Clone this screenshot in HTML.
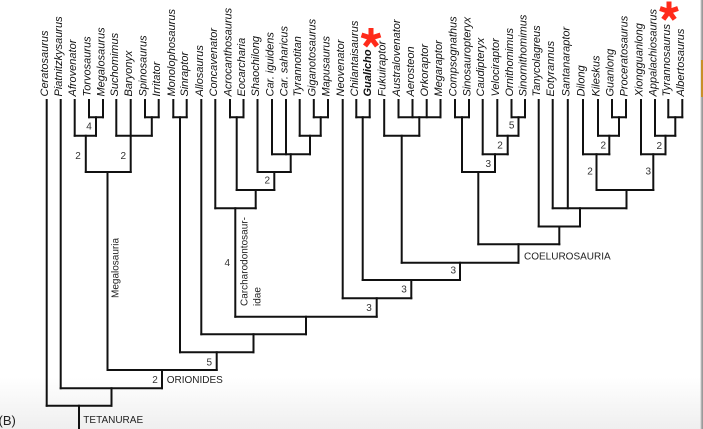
<!DOCTYPE html>
<html><head><meta charset="utf-8"><style>
html,body{margin:0;padding:0;background:#fff;}
svg{display:block;}
text{font-family:"Liberation Sans",Arial,sans-serif;}
.t{font-size:11px;font-style:italic;fill:#111;}
.n{font-size:10px;fill:#333;text-anchor:middle;}
.c{font-size:10px;fill:#222;}
</style></head><body>
<svg width="703" height="429" viewBox="0 0 703 429" xmlns="http://www.w3.org/2000/svg">
<defs><linearGradient id="bg" x1="0" y1="0" x2="0" y2="1">
<stop offset="0" stop-color="#ffffff"/><stop offset="0.88" stop-color="#ffffff"/><stop offset="1" stop-color="#efefef"/></linearGradient></defs>
<rect x="0" y="0" width="703" height="429" fill="url(#bg)"/>
<rect x="700.5" y="0" width="1" height="429" fill="#c8c8c8"/>
<rect x="701.5" y="0" width="1.5" height="429" fill="#9a9a9a"/>
<rect x="701" y="60" width="2" height="37" fill="#c8902a"/>

<g stroke="#111" stroke-width="2" fill="none" stroke-linecap="square">
<path d="
M46.7 100V405.7 M60.7 100V388.3 M74.7 100V135.7 M89 100V117.3 M103 100V117.3
M116.3 100V135.7 M130.7 100V172 M145 100V117.3 M158.7 100V117.3
M173.3 100V117.3 M186.7 100V117.3 M201.3 100V334.3 M215.3 100V208.3
M230 100V117.3 M243.5 100V117.3 M257.5 100V172 M272 100V154.2 M286 100V154.2
M299.7 100V135.7 M313.8 100V117.3 M328 100V117.3 M342.7 100V298.3
M356.3 100V117.3 M369.7 100V117.3 M384.2 100V135.7
M398.5 100V117.3 M412.5 100V117.3 M426.7 100V117.3 M440.5 100V117.3
M455 100V117.3 M469 100V117.3 M482.7 100V154.2 M497.3 100V135.7
M511.5 100V117.3 M525 100V117.3 M538.7 100V226.5 M552.7 100V208.3 M567.8 100V208.3
M583 100V154.2 M598 100V135.7 M612 100V117.3 M626 100V117.3
M641 100V154.2 M655 100V135.7 M668.3 100V117.3 M682.3 100V117.3
"/>
<path d="
M96 117.3V135.7 M85.8 135.7V172 M151.8 117.3V135.7 M107.5 172V370
M180 117.3V352.3 M236.7 117.3V190 M320.7 117.3V135.7 M310 135.7V154.2
M290.7 154.2V172 M274.3 172V190 M255.7 190V208.3 M235.3 208.3V316.7
M362.7 117.3V280 M419.3 117.3V135.7 M401.7 135.7V262.7
M462 117.3V172 M518.5 117.3V135.7 M507.7 135.7V154.2 M495 154.2V172 M478.3 172V244.3
M619 117.3V135.7 M609.3 135.7V154.2 M596.5 154.2V190
M675.3 117.3V135.7 M665.5 135.7V154.2 M653.3 154.2V190
M626.5 190V208.3 M580 208.3V226.5 M559.3 226.5V244.3 M518.5 244.3V262.7
M460 262.7V280 M411.3 280V298.3 M376.7 298.3V316.7 M306 316.7V334.3
M253.5 334.3V352.3 M216.7 352.3V370 M162 370V388.3 M111.5 388.3V405.7 M79 405.7V429
"/>
<path d="
M89 117.3H103 M74.7 135.7H96 M145 117.3H158.7 M116.3 135.7H151.8 M85.8 172H130.7
M173.3 117.3H186.7 M230 117.3H243.5 M313.8 117.3H328 M299.7 135.7H320.7
M272 154.2H310 M257.5 172H290.7 M236.7 190H274.3 M215.3 208.3H255.7
M356.3 117.3H369.7 M398.5 117.3H440.5 M384.2 135.7H419.3
M455 117.3H469 M511.5 117.3H525 M497.3 135.7H518.5 M482.7 154.2H507.7 M462 172H495
M612 117.3H626 M598 135.7H619 M583 154.2H609.3
M668.3 117.3H682.3 M655 135.7H675.3 M641 154.2H665.5
M596.5 190H653.3 M552.7 208.3H626.5 M538.7 226.5H580 M478.3 244.3H559.3
M401.7 262.7H518.5 M362.7 280H460 M342.7 298.3H411.3 M235.3 316.7H376.7
M201.3 334.3H306 M180 352.3H253.5 M107.5 370H216.7 M60.7 388.3H162 M46.7 405.7H111.5
"/>
</g>

<g class="t">
<text transform="translate(48.2,96.5) rotate(-90)">Ceratosaurus</text>
<text transform="translate(62.2,96.5) rotate(-90)">Piatnitzkysaurus</text>
<text transform="translate(76.2,96.5) rotate(-90)">Afrovenator</text>
<text transform="translate(90.5,96.5) rotate(-90)">Torvosaurus</text>
<text transform="translate(104.5,96.5) rotate(-90)">Megalosaurus</text>
<text transform="translate(117.8,96.5) rotate(-90)">Suchomimus</text>
<text transform="translate(132.2,96.5) rotate(-90)">Baryonyx</text>
<text transform="translate(146.5,96.5) rotate(-90)">Spinosaurus</text>
<text transform="translate(160.2,96.5) rotate(-90)">Irritator</text>
<text transform="translate(174.8,96.5) rotate(-90)">Monolophosaurus</text>
<text transform="translate(188.2,96.5) rotate(-90)">Sinraptor</text>
<text transform="translate(202.8,96.5) rotate(-90)">Allosaurus</text>
<text transform="translate(216.8,96.5) rotate(-90)">Concavenator</text>
<text transform="translate(231.5,96.5) rotate(-90)">Acrocanthosaurus</text>
<text transform="translate(245,96.5) rotate(-90)">Eocarcharia</text>
<text transform="translate(259,96.5) rotate(-90)">Shaochilong</text>
<text transform="translate(273.5,96.5) rotate(-90)">Car. iguidens</text>
<text transform="translate(287.5,96.5) rotate(-90)">Car. saharicus</text>
<text transform="translate(301.2,96.5) rotate(-90)">Tyrannotitan</text>
<text transform="translate(315.3,96.5) rotate(-90)">Giganotosaurus</text>
<text transform="translate(329.5,96.5) rotate(-90)">Mapusaurus</text>
<text transform="translate(344.2,96.5) rotate(-90)">Neovenator</text>
<text transform="translate(357.8,96.5) rotate(-90)">Chilantaisaurus</text>
<text transform="translate(371.2,96.5) rotate(-90)" font-weight="bold">Gualicho</text>
<text transform="translate(385.7,96.5) rotate(-90)">Fukuiraptor</text>
<text transform="translate(400,96.5) rotate(-90)">Australovenator</text>
<text transform="translate(414,96.5) rotate(-90)">Aerosteon</text>
<text transform="translate(428.2,96.5) rotate(-90)">Orkoraptor</text>
<text transform="translate(442,96.5) rotate(-90)">Megaraptor</text>
<text transform="translate(456.5,96.5) rotate(-90)">Compsognathus</text>
<text transform="translate(470.5,96.5) rotate(-90)">Sinosauropteryx</text>
<text transform="translate(484.2,96.5) rotate(-90)">Caudipteryx</text>
<text transform="translate(498.8,96.5) rotate(-90)">Velociraptor</text>
<text transform="translate(513,96.5) rotate(-90)">Ornithomimus</text>
<text transform="translate(526.5,96.5) rotate(-90)">Sinornithomimus</text>
<text transform="translate(540.2,96.5) rotate(-90)">Tanycolagreus</text>
<text transform="translate(554.2,96.5) rotate(-90)">Eotyrannus</text>
<text transform="translate(569.3,96.5) rotate(-90)">Santanaraptor</text>
<text transform="translate(584.5,96.5) rotate(-90)">Dilong</text>
<text transform="translate(599.5,96.5) rotate(-90)">Kileskus</text>
<text transform="translate(613.5,96.5) rotate(-90)">Guanlong</text>
<text transform="translate(627.5,96.5) rotate(-90)">Proceratosaurus</text>
<text transform="translate(642.5,96.5) rotate(-90)">Xiongguanlong</text>
<text transform="translate(656.5,96.5) rotate(-90)">Appalachiosaurus</text>
<text transform="translate(669.8,96.5) rotate(-90)">Tyrannosaurus</text>
<text transform="translate(683.8,96.5) rotate(-90)">Albertosaurus</text>
</g>

<g class="n">
<text x="89" y="129.5">4</text>
<text x="78" y="159.2">2</text>
<text x="123.3" y="159.2">2</text>
<text x="267.3" y="183.5">2</text>
<text x="227.3" y="265.8">4</text>
<text x="209.3" y="365.5">5</text>
<text x="155" y="382.8">2</text>
<text x="369" y="311.2">3</text>
<text x="404" y="292.5">3</text>
<text x="453.3" y="273.5">3</text>
<text x="488.3" y="166.8">3</text>
<text x="500" y="148.5">2</text>
<text x="511.7" y="128.5">5</text>
<text x="590" y="174.5">2</text>
<text x="603.3" y="148.5">2</text>
<text x="648.3" y="174.5">3</text>
<text x="659.3" y="148.8">2</text>
</g>

<g class="c">
<text transform="translate(118.5,298) rotate(-90)">Megalosauria</text>
<text transform="translate(247.5,306) rotate(-90)">Carcharodontosaur-</text>
<text transform="translate(260.5,306) rotate(-90)">idae</text>
<text x="524" y="259.3">COELUROSAURIA</text>
<text x="166.7" y="383">ORIONIDES</text>
<text x="83.3" y="423">TETANURAE</text>
</g>
<text x="-1.5" y="425" font-size="13" fill="#222">(B)</text>

<g stroke="#ff2a1a" stroke-width="5" stroke-linecap="butt">
<path d="M371 38v-10 M371 38l9.5-3 M371 38l6 8 M371 38l-6 8 M371 38l-9.5-3"/>
<path d="M669 11.5v-10 M669 11.5l9-3 M669 11.5l5.7 7.8 M669 11.5l-5.7 7.8 M669 11.5l-9-3"/>
</g>
</svg>
</body></html>
